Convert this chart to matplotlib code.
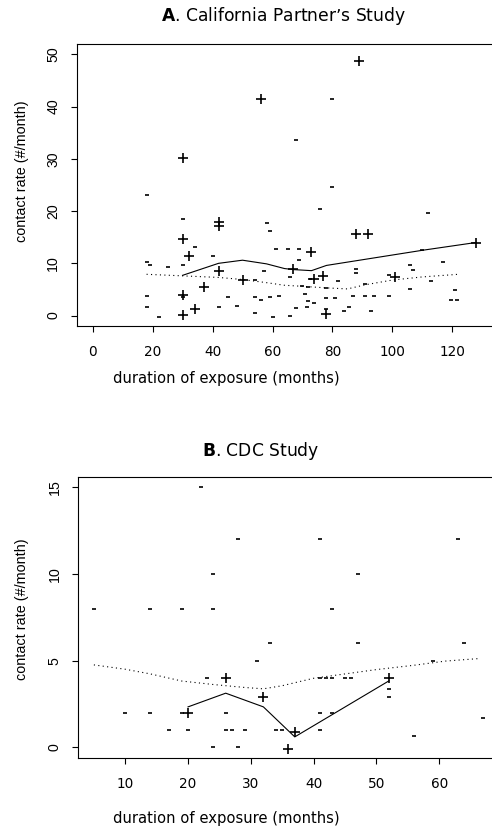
import matplotlib
matplotlib.use("Agg")
import matplotlib.pyplot as plt

plt.rcParams['font.family'] = ['DejaVu Sans']
plt.rcParams['mathtext.fontset'] = 'dejavusans'

# ---- panel A: California Partner's Study ----
a_plus_x = [56, 30, 42, 42, 30, 32, 42, 50, 37, 30, 34, 30,
            89, 88, 92, 73, 128, 67, 74, 77, 101, 78]
a_plus_y = [41.4, 30.2, 18.0, 17.1, 14.7, 11.5, 8.6, 6.8, 5.4, 4.0, 1.2, 0.2,
            48.7, 15.7, 15.7, 12.2, 13.8, 9.0, 7.0, 7.6, 7.3, 0.3]
a_minus_x = [18, 30, 58, 59, 34, 61, 65, 69, 40, 18, 19, 25, 30, 57, 54,
             18, 30, 45, 54, 56, 59, 62, 18, 42, 48, 22, 54, 60,
             80, 68, 80, 76, 112, 69, 66, 72.5, 88, 88, 82, 106, 107, 117,
             110, 99, 113, 70, 72, 78, 91, 71, 78, 81, 87, 91, 94, 99, 106,
             121, 119.5, 121.5, 72, 74, 68, 71.5, 66, 84, 85.5, 93, 78]
a_minus_y = [23.0, 18.4, 17.8, 16.2, 13.2, 12.8, 12.8, 12.8, 11.5, 10.2, 9.6, 9.3, 9.6, 8.5, 6.9,
             3.8, 3.5, 3.6, 3.6, 2.9, 3.5, 3.8, 1.7, 1.7, 1.9, -0.2, 0.5, -0.2,
             41.4, 33.6, 24.7, 20.5, 19.6, 10.6, 7.3, 7.0, 8.9, 8.1, 6.6, 9.7, 8.8, 10.2,
             12.5, 7.7, 6.7, 5.6, 5.4, 5.3, 6.0, 4.2, 3.3, 3.3, 3.8, 3.8, 3.8, 3.8, 5.0,
             4.8, 2.9, 2.9, 2.7, 2.4, 1.4, 1.7, 0.0, 0.8, 1.6, 0.8, 1.2]
a_solid_x = [30, 42, 50, 58, 64, 67, 73, 78, 110, 128]
a_solid_y = [7.7, 10.0, 10.6, 9.9, 9.0, 8.8, 8.6, 9.6, 12.5, 14.0]
a_dot_x = [18, 30, 42, 50, 58, 64, 70, 78, 85, 91, 100, 110, 122]
a_dot_y = [7.9, 7.6, 7.3, 6.9, 6.3, 5.8, 5.6, 5.3, 5.1, 5.9, 6.8, 7.4, 7.9]

# ---- panel B: CDC Study ----
b_plus_x = [26, 52, 32, 20, 37, 36]
b_plus_y = [4.0, 4.0, 2.9, 2.0, 0.9, -0.1]
b_minus_x = [22, 28, 41, 63, 24, 47, 5, 14, 19, 24, 43, 33, 47, 64, 31, 59,
             23, 41, 42, 43, 45, 46, 52, 52, 10, 14, 19, 26, 41, 43, 67,
             17, 20, 26, 27, 29, 34, 35, 41, 56, 24, 28]
b_minus_y = [15, 12, 12, 12, 10, 10, 8, 8, 8, 8, 8, 6, 6, 6, 5, 5,
             4, 4, 4, 4, 4, 4, 3.35, 2.9, 2, 2, 2, 2, 2, 2, 1.7,
             1, 1, 1, 1, 1, 1, 1, 1, 0.67, 0, 0]
b_solid_x = [20, 26, 32, 37, 52]
b_solid_y = [2.33, 3.12, 2.33, 0.6, 3.83]
b_dot_x = [5, 10, 14, 19, 24, 29, 32, 35, 40, 45, 50, 56, 61, 66.5]
b_dot_y = [4.75, 4.5, 4.23, 3.82, 3.62, 3.45, 3.37, 3.55, 3.98, 4.23, 4.48, 4.73, 4.97, 5.12]

W, H = 492, 832
fig = plt.figure(figsize=(W / 100, H / 100), dpi=100)


def px(x, y):
    return x / W, 1 - y / H


def panel(rect, xlim, ylim, xticks, yticks, px_, py_, mx, my, sx, sy, dx, dy):
    ax = fig.add_axes(rect)
    ax.plot(dx, dy, color='black', lw=0.8, linestyle=(0, (1, 3)))
    ax.plot(sx, sy, color='black', lw=0.8)
    ax.plot(mx, my, linestyle='none', marker='_', ms=3.4, mew=1.2, color='black')
    ax.plot(px_, py_, linestyle='none', marker='+', ms=6.5, mew=1.2, color='black')
    ax.set_xlim(*xlim)
    ax.set_ylim(*ylim)
    ax.set_xticks(xticks)
    ax.set_yticks(yticks)
    for s in ax.spines.values():
        s.set_linewidth(0.8)
    # the plot box runs past the right edge of the picture
    ax.spines['right'].set_visible(False)
    ax.tick_params(direction='out', length=4, width=0.8)
    ax.tick_params(axis='x', pad=10, labelsize=9.8, labelfontfamily='DejaVu Sans')
    ax.tick_params(axis='y', pad=8, labelsize=10.2, labelfontfamily='Liberation Sans')
    for t in ax.get_yticklabels():
        t.set_rotation(90)
        t.set_va('center')
    return ax


panel([77 / W, (H - 326) / H, (498 - 77) / W, (326 - 44) / H],
      (-5.2, 135.2), (-2, 52), range(0, 121, 20), range(0, 51, 10),
      a_plus_x, a_plus_y, a_minus_x, a_minus_y,
      a_solid_x, a_solid_y, a_dot_x, a_dot_y)

panel([78.3 / W, (H - 757.7) / H, (498.7 - 78.3) / W, (757.7 - 476.7) / H],
      (2.52, 69.48), (-0.6, 15.6), range(10, 61, 10), range(0, 16, 5),
      b_plus_x, b_plus_y, b_minus_x, b_minus_y,
      b_solid_x, b_solid_y, b_dot_x, b_dot_y)

fig.text(*px(283.5, 16), r'$\mathbf{A}$. California Partner’s Study',
         ha='center', va='center', fontsize=12.3)
fig.text(*px(260.5, 450.7), r'$\mathbf{B}$. CDC Study',
         ha='center', va='center', fontsize=12.3)
fig.text(*px(226.5, 379), 'duration of exposure (months)',
         ha='center', va='center', fontsize=10.6)
fig.text(*px(226.5, 818), 'duration of exposure (months)',
         ha='center', va='center', fontsize=10.6)
fig.text(*px(22, 171), 'contact rate (#/month)', rotation=90,
         ha='center', va='center', fontsize=10.4, family='Liberation Sans')
fig.text(*px(22, 609), 'contact rate (#/month)', rotation=90,
         ha='center', va='center', fontsize=10.4, family='Liberation Sans')

fig.savefig('out.png', dpi=100)
